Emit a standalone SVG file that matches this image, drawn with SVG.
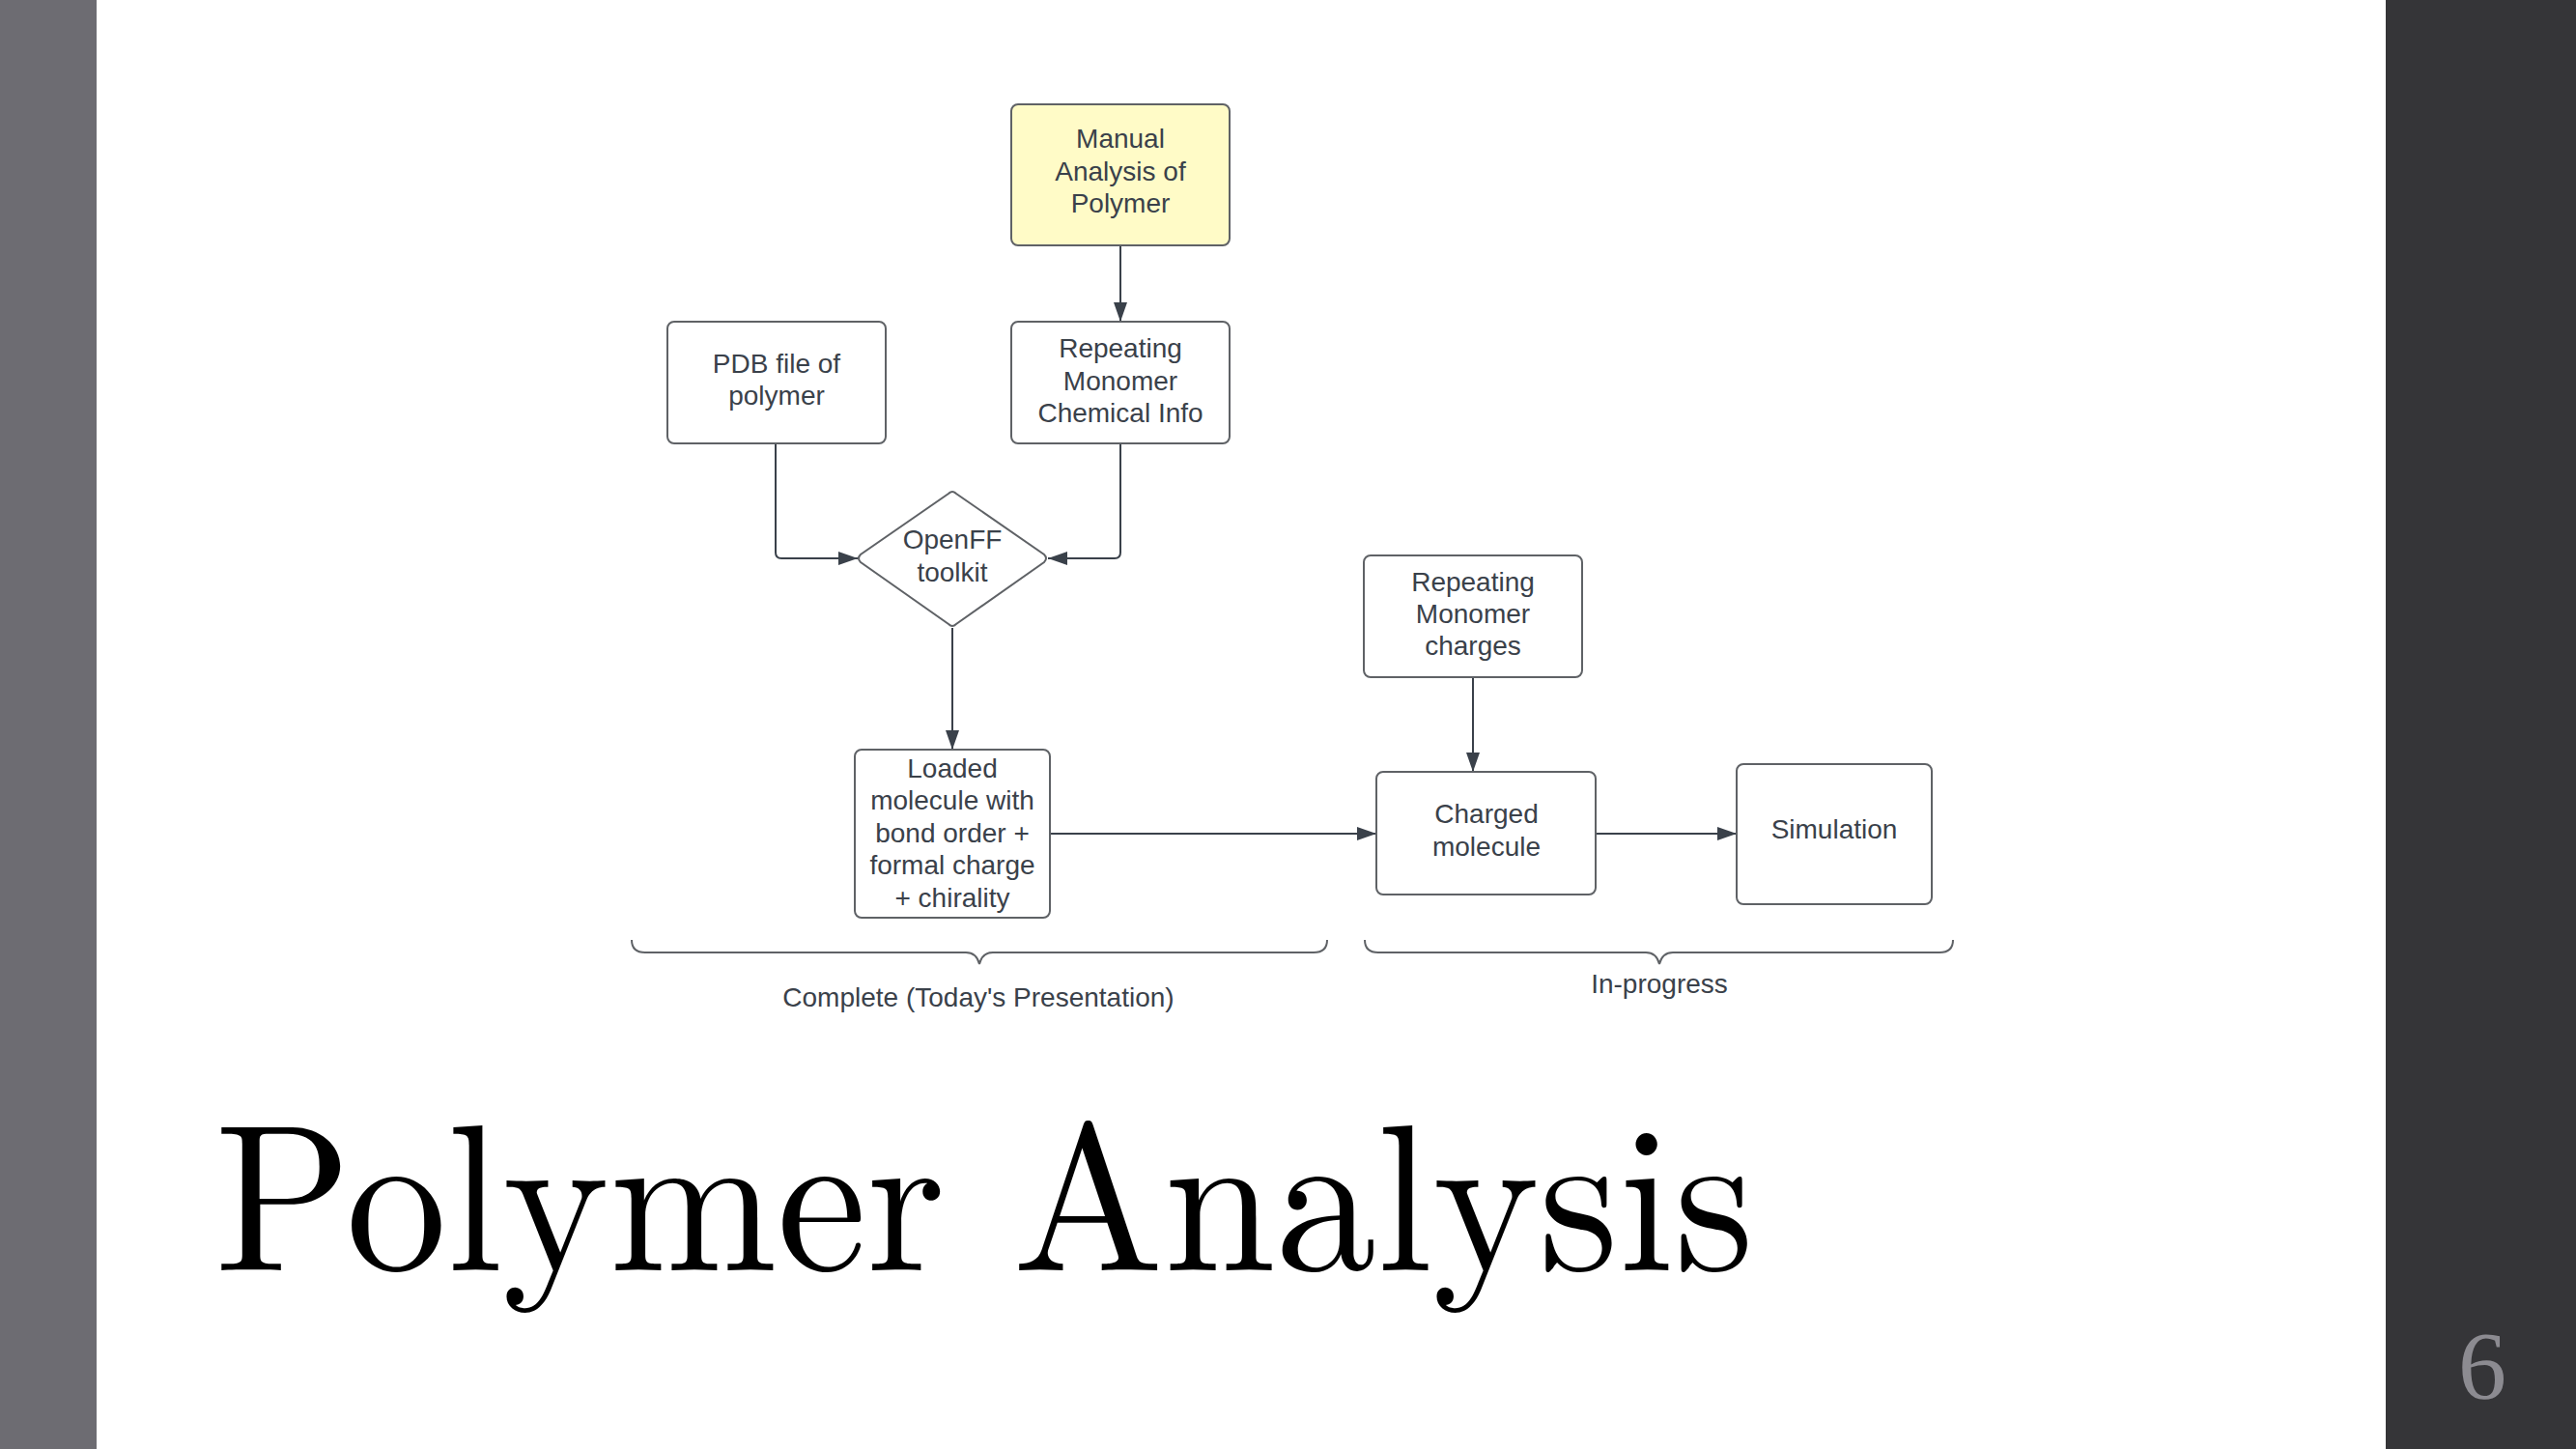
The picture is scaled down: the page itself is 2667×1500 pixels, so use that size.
<svg xmlns="http://www.w3.org/2000/svg" width="2667" height="1500" viewBox="0 0 2667 1500">
<defs>
<style>
.box{fill:#ffffff;stroke:#5f6266;stroke-width:2}
.yel{fill:#fffbc7;stroke:#5f6266;stroke-width:2}
.lbl{font-family:"Liberation Sans",Arial,sans-serif;font-size:28px;fill:#3a414a;text-anchor:middle}
.con{fill:none;stroke:#3a414a;stroke-width:2}
.brace{fill:none;stroke:#5f6266;stroke-width:2}
</style>
<marker id="ah" viewBox="0 0 20 14" refX="20" refY="7" markerWidth="20" markerHeight="14" markerUnits="userSpaceOnUse" orient="auto">
<path d="M0,0 L20,7 L0,14 Z" fill="#3a414a"/>
</marker>
</defs>
<rect x="0" y="0" width="2667" height="1500" fill="#ffffff"/>
<rect x="0" y="0" width="100" height="1500" fill="#6d6c72"/>
<rect x="2470" y="0" width="197" height="1500" fill="#353538"/>

<g id="connectors">
<path class="con" d="M1160,254 L1160,333" marker-end="url(#ah)"/>
<path class="con" d="M803,459 L803,572 Q803,578 809,578 L888,578" marker-end="url(#ah)"/>
<path class="con" d="M1160,459 L1160,572 Q1160,578 1154,578 L1085,578" marker-end="url(#ah)"/>
<path class="con" d="M986,650 L986,776" marker-end="url(#ah)"/>
<path class="con" d="M1087,863 L1425,863" marker-end="url(#ah)"/>
<path class="con" d="M1525,701 L1525,799" marker-end="url(#ah)"/>
<path class="con" d="M1652,863 L1798,863" marker-end="url(#ah)"/>
</g>

<g id="manual">
<rect class="yel" x="1047" y="108" width="226" height="146" rx="7"/>
<text class="lbl" x="1160" y="153">Manual</text>
<text class="lbl" x="1160" y="187">Analysis of</text>
<text class="lbl" x="1160" y="220">Polymer</text>
</g>

<g id="pdb">
<rect class="box" x="691" y="333" width="226" height="126" rx="7"/>
<text class="lbl" x="804" y="386">PDB file of</text>
<text class="lbl" x="804" y="419">polymer</text>
</g>

<g id="chem">
<rect class="box" x="1047" y="333" width="226" height="126" rx="7"/>
<text class="lbl" x="1160" y="370">Repeating</text>
<text class="lbl" x="1160" y="404">Monomer</text>
<text class="lbl" x="1160" y="437">Chemical Info</text>
</g>

<g id="openff">
<path class="box" d="M982,511 Q986,507 990,511 L1081,574 Q1085,578 1081,582 L990,646 Q986,650 982,646 L891,582 Q887,578 891,574 Z"/>
<text class="lbl" x="986" y="568">OpenFF</text>
<text class="lbl" x="986" y="602">toolkit</text>
</g>

<g id="loaded">
<rect class="box" x="885" y="776" width="202" height="174" rx="7"/>
<text class="lbl" x="986" y="805">Loaded</text>
<text class="lbl" x="986" y="838">molecule with</text>
<text class="lbl" x="986" y="872">bond order +</text>
<text class="lbl" x="986" y="905">formal charge</text>
<text class="lbl" x="986" y="939">+ chirality</text>
</g>

<g id="charges">
<rect class="box" x="1412" y="575" width="226" height="126" rx="7"/>
<text class="lbl" x="1525" y="612">Repeating</text>
<text class="lbl" x="1525" y="645">Monomer</text>
<text class="lbl" x="1525" y="678">charges</text>
</g>

<g id="charged">
<rect class="box" x="1425" y="799" width="227" height="127" rx="7"/>
<text class="lbl" x="1539" y="852">Charged</text>
<text class="lbl" x="1539" y="886">molecule</text>
</g>

<g id="simulation">
<rect class="box" x="1798" y="791" width="202" height="145" rx="7"/>
<text class="lbl" x="1899" y="868">Simulation</text>
</g>

<g id="brace-complete">
<path class="brace" d="M654,973 Q654,986 668,986 L1000,986 Q1011,986 1014,998 Q1017,986 1028,986 L1360,986 Q1374,986 1374,973"/>
<text class="lbl" x="1013" y="1042">Complete (Today's Presentation)</text>
</g>

<g id="brace-progress">
<path class="brace" d="M1413,973 Q1413,986 1427,986 L1704,986 Q1715,986 1718,998 Q1721,986 1732,986 L2008,986 Q2022,986 2022,973"/>
<text class="lbl" x="1718" y="1028">In-progress</text>
</g>

<text x="222" y="1315" font-family="'Latin Modern Roman','Liberation Serif','DejaVu Serif',serif" font-size="216" fill="#000000" textLength="1594" lengthAdjust="spacingAndGlyphs">Polymer Analysis</text>
<text x="2570" y="1447" font-family="'Liberation Serif','DejaVu Serif',serif" font-size="100" fill="#8c8b91" text-anchor="middle">6</text>
</svg>
